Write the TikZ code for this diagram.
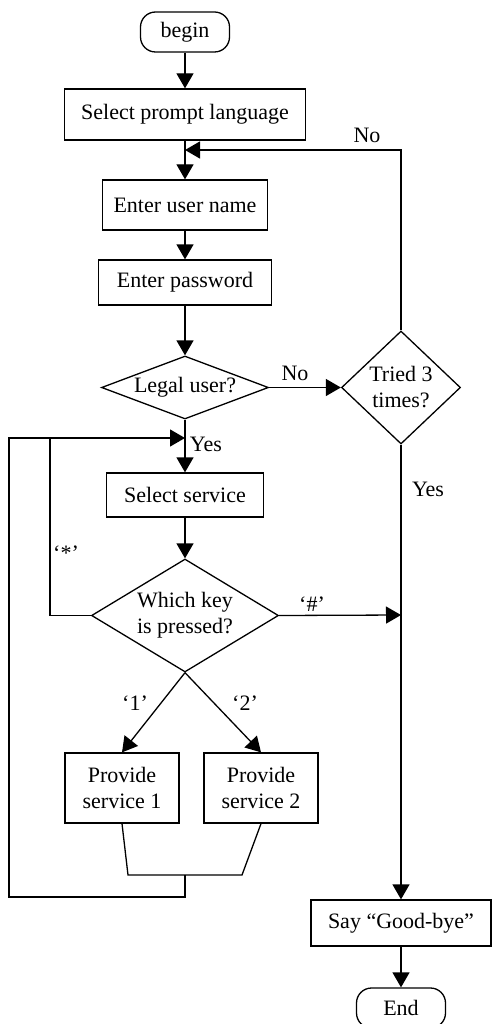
\documentclass[tikz,border=0pt]{standalone}
\usepackage{fontspec}
\setmainfont{Liberation Serif}
\usetikzlibrary{arrows.meta,shapes.geometric}
\begin{document}
\begin{tikzpicture}[x=1pt,y=1pt,
  every node/.style={font=\fontsize{22}{26}\selectfont},
  box/.style={draw,line width=1.3pt,inner sep=0pt,align=center},
  term/.style={box,rounded corners=15pt,minimum width=89pt,minimum height=40pt},
  dia/.style={draw,diamond,line width=1.3pt,inner sep=0pt},
  lbl/.style={inner sep=0pt},
  line/.style={line width=1.3pt},
  arr/.style={line,-{Triangle[length=15pt,width=17pt]}}]
\useasboundingbox (0,0) rectangle (492,-1024);
% nodes
\node[term] (begin) at (185,-32) {begin};
\node[box,minimum width=241pt,minimum height=51pt] (lang) at (185,-114.5) {Select prompt language};
\node[box,minimum width=165pt,minimum height=50pt] (user) at (185,-205) {Enter user name};
\node[box,minimum width=173pt,minimum height=45pt] (pass) at (185,-282.5) {Enter password};
\node[dia,minimum width=167pt,minimum height=63pt] (legal) at (185,-387.5) {};
\node[lbl] (legalt) at (185,-387.5) {Legal user?};
\node[dia,minimum width=119pt,minimum height=113pt] (tried) at (401,-387.5) {};
\node[lbl,align=center] (triedt) at (401,-387.5) {Tried 3\\times?};
\node[box,minimum width=157pt,minimum height=44pt] (serv) at (185,-495) {Select service};
\node[dia,minimum width=187pt,minimum height=113pt] (which) at (185,-615.5) {};
\node[lbl,align=center] (whicht) at (185,-615.5) {Which key\\is pressed?};
\node[box,minimum width=114pt,minimum height=70pt] (ps1) at (122,-788) {Provide\\service 1};
\node[box,minimum width=114pt,minimum height=70pt] (ps2) at (261,-788) {Provide\\service 2};
\node[box,minimum width=180pt,minimum height=46pt] (bye) at (401,-923) {Say “Good-bye”};
\node[term] (end) at (401,-1008) {End};
% junctions
\coordinate (j1) at (185,-150);
\coordinate (j2) at (185,-438);
\coordinate (m) at (185,-875);
\coordinate (h) at (401,-615);
% labels
\node[lbl] (no1) at (367,-135) {No};
\node[lbl] (no2) at (295,-373) {No};
\node[lbl] (yes1) at (206,-444) {Yes};
\node[lbl] (yes2) at (428,-489) {Yes};
\node[lbl] (star) at (66,-553) {‘*’};
\node[lbl] (hash) at (312,-604) {‘\#’};
\node[lbl] (one) at (135,-703) {‘1’};
\node[lbl] (two) at (245,-703) {‘2’};
% connectors
\draw[arr] (begin.south) -- (lang.north);
\draw[arr] (lang.south) -- (user.north);
\draw[arr] (tried.north) |- (j1);
\draw[arr] (user.south) -- (pass.north);
\draw[arr] (pass.south) -- (legal.north);
\draw[arr] (legal.east) -- (tried.west);
\draw[arr] (legal.south) -- (serv.north);
\draw[arr] (serv.south) -- (which.north);
\draw[arr] (which.west) -- (50,-615.5) -- (50,-438) -- (j2);
\draw[arr] (which.east) -- (h);
\draw[arr] (which.south) -- (ps1.north);
\draw[arr] (which.south) -- (ps2.north);
\draw[line] (ps1.south) -- (128,-875) -- (242,-875) -- (ps2.south);
\draw[line] (m) -- (185,-897) -- (9,-897) -- (9,-438) -- (50,-438);
\draw[arr] (tried.south) -- (bye.north);
\draw[arr] (bye.south) -- (end.north);
\end{tikzpicture}
\end{document}
